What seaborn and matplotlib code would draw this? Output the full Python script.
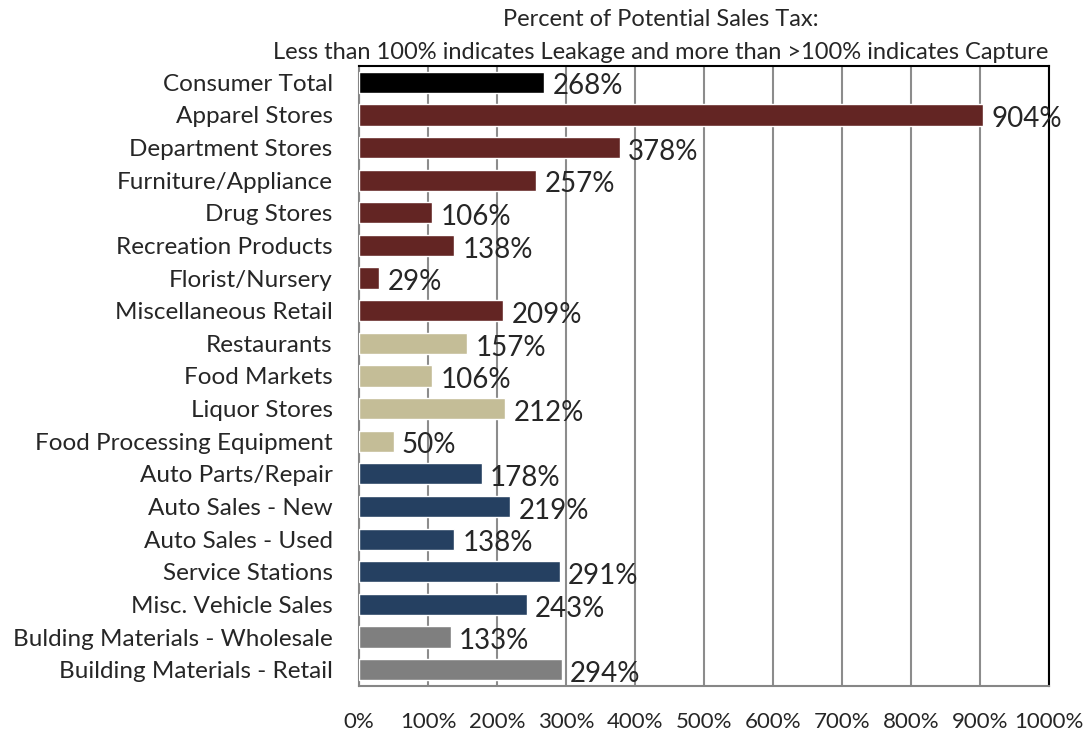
import numpy as np
import pandas as pd
import matplotlib
matplotlib.use("Agg")
import matplotlib.pyplot as plt
import seaborn as sns

# data
categories = ["Consumer Total", "Apparel Stores", "Department Stores", "Furniture/Appliance",
              "Drug Stores", "Recreation Products", "Florist/Nursery", "Miscellaneous Retail",
              "Restaurants", "Food Markets", "Liquor Stores", "Food Processing Equipment",
              "Auto Parts/Repair", "Auto Sales - New", "Auto Sales - Used", "Service Stations",
              "Misc. Vehicle Sales", "Bulding Materials - Wholesale", "Building Materials - Retail"]
values = [268, 904, 378, 257, 106, 138, 29, 209, 157, 106, 212, 50,
          178, 219, 138, 291, 243, 133, 294]
groups = ["total"] + ["retail"] * 7 + ["food"] * 4 + ["auto"] * 5 + ["building"] * 2
group_colors = {"total": "#000000", "retail": "#632523", "food": "#C4BD97",
                "auto": "#254061", "building": "#7F7F7F"}
xticks = list(range(0, 1001, 100))

sns.set_style("white")
plt.rcParams['font.family'] = ['Lato', 'DejaVu Sans']

df = pd.DataFrame({"category": categories, "value": values})
palette = [group_colors[g] for g in groups]

fig = plt.figure(figsize=(10.87, 7.35), dpi=100)
ax = fig.add_axes([0.3303, 0.0667, 0.6347, 0.8435])

sns.barplot(data=df, y="category", x="value", hue="category", palette=palette,
            legend=False, orient="h", width=0.65, saturation=1, ax=ax, zorder=3)

# value labels just past the bar ends
for i, v in enumerate(values):
    ax.annotate(f"{v}%", (v, i), xytext=(6, -3), textcoords="offset points",
                ha="left", va="center", fontsize=20, zorder=4)

ax.set_xlim(0, 1000)
ax.set_ylim(len(categories) - 0.5, -0.5)
ax.set_xticks(xticks)
ax.set_xticklabels([f"{t}%" for t in xticks], fontsize=16)
ax.set_yticks(range(len(categories)))
ax.set_yticklabels(categories, fontsize=17.5)
ax.set_yticks(np.arange(-0.5, len(categories), 1), minor=True)
ax.tick_params(axis="y", which="major", length=0, pad=19)
ax.tick_params(axis="y", which="minor", length=5, color="#868686", width=1.2)
ax.tick_params(axis="x", length=5, color="#868686", width=1.2, pad=14, direction="out")
ax.set_xlabel("")
ax.set_ylabel("")

ax.grid(axis="x", color="#8C8C8C", linewidth=1.5, zorder=0)
ax.set_axisbelow(True)
for side in ["left", "bottom"]:
    ax.spines[side].set_color("#868686")
    ax.spines[side].set_linewidth(1.5)
for side in ["top", "right"]:
    ax.spines[side].set_color("black")
    ax.spines[side].set_linewidth(1.5)

fig.text(0.608, 0.973, "Percent of Potential Sales Tax:", ha="center", va="center", fontsize=17)
fig.text(0.608, 0.929, "Less than 100% indicates Leakage and more than >100% indicates Capture",
         ha="center", va="center", fontsize=17)

fig.savefig("out.png", dpi=100)
